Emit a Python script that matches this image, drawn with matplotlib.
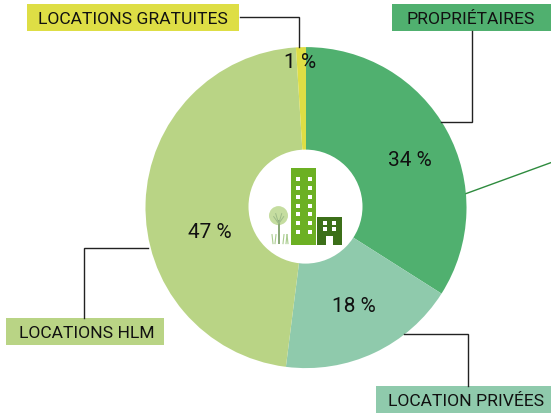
"""Housing status donut, drawn on a figure sized axes in pixel units"""
import matplotlib
matplotlib.use("Agg")
import matplotlib.pyplot as plt
from matplotlib.patches import Rectangle, Circle

W, H = 551, 414

categories = ["PROPRIÉTAIRES", "LOCATION PRIVÉES", "LOCATIONS HLM", "LOCATIONS GRATUITES"]
values = [34, 18, 47, 1]
colors = ["#50B06F", "#8FCAAC", "#B9D485", "#DEDE45"]
pct_labels = ["34 %", "18 %", "47 %", "1 %"]
pct_pos = [(410, 158), (354, 304), (210, 230), (300, 60)]

# box x0, y0, x1, y1 and text start, in picture pixels
boxes = [(392, 4, 551, 31, 406), (376, 386, 551, 413, 388), (6, 318, 164, 345, 19), (27, 4, 239, 31, 38)]
leaders = [
    [(472, 31), (472, 122), (441, 122)],
    [(468, 386), (468, 334), (404, 334)],
    [(84, 318), (84, 248), (148, 248)],
    [(240, 17), (299, 17), (299, 47)],
]

CX, CY, R, HOLE = 306, 208, 160.5, 57


def yy(y):
    return H - y - 0.6


def rect(ax, x0, y0, x1, y1, color, z=5):
    ax.add_patch(Rectangle((x0, yy(y1)), x1 - x0, y1 - y0, facecolor=color, edgecolor="none", zorder=z))


def drawIcon(ax):
    ax.add_patch(Circle((CX - 0.5, yy(CY - 1)), HOLE, facecolor="white", edgecolor="none", zorder=4))
    # tall block
    rect(ax, 291, 168, 316, 245, "#6CB023")
    for wy in [177, 186, 195, 204, 212, 221, 230]:
        for wx in [296, 308]:
            rect(ax, wx, wy, wx + 4, wy + 4.5, "white", 6)
    # small block
    rect(ax, 317, 217, 342, 245, "#3C6F19")
    for wy in [221, 227]:
        for wx in [323, 332]:
            rect(ax, wx, wy, wx + 4, wy + 4, "white", 6)
    rect(ax, 326, 236, 333, 245, "white", 6)
    # tree
    ax.add_patch(Circle((278.5, yy(216)), 9.5, facecolor="#C5DDA0", edgecolor="none", zorder=5))
    rect(ax, 278, 220, 279.5, 244, "#8AA878", 6)
    for dx, dy in [(-5, -7), (5, -7), (-3, -10), (3, -10)]:
        ax.plot([278.7, 278.7 + dx], [yy(224), yy(224 + dy)], color="#9DBB88", lw=0.7, zorder=6)
    for gx, lean in [(273, -1), (275, 1), (283, 1), (286, 1), (288, -1)]:
        ax.plot([gx, gx + lean], [yy(244), yy(235)], color="#A9CC8E", lw=0.8, zorder=6)


fig = plt.figure(figsize=(W / 100, H / 100), dpi=100)
ax = fig.add_axes([0, 0, 1, 1])
ax.set_xlim(0, W)
ax.set_ylim(0, H)
ax.axis("off")

ax.pie(values, colors=colors, startangle=90, counterclock=False, center=(CX, yy(CY)), radius=R,
       frame=False, wedgeprops={"linewidth": 0})
ax.set_xlim(0, W)
ax.set_ylim(0, H)
ax.set_aspect("auto")

for pts in leaders:
    ax.plot([p[0] for p in pts], [yy(p[1]) for p in pts], color="#222222", lw=1, zorder=3,
            solid_joinstyle="miter")
ax.plot([466, 551], [yy(194), yy(163)], color="#2E8B3E", lw=1, zorder=3)

for name, col, box in zip(categories, colors, boxes):
    rect(ax, box[0], box[1], box[2], box[3], col, 2)
    ax.text(box[4], yy((box[1] + box[3]) / 2), name, family="Roboto", fontsize=12.6, color="#111111",
            ha="left", va="center_baseline", zorder=6)

for lab, pos in zip(pct_labels, pct_pos):
    ax.text(pos[0], yy(pos[1]), lab, family="Roboto", fontsize=15, color="#111111",
            ha="center", va="center_baseline", zorder=6)

drawIcon(ax)

fig.savefig("out.png", dpi=100)
